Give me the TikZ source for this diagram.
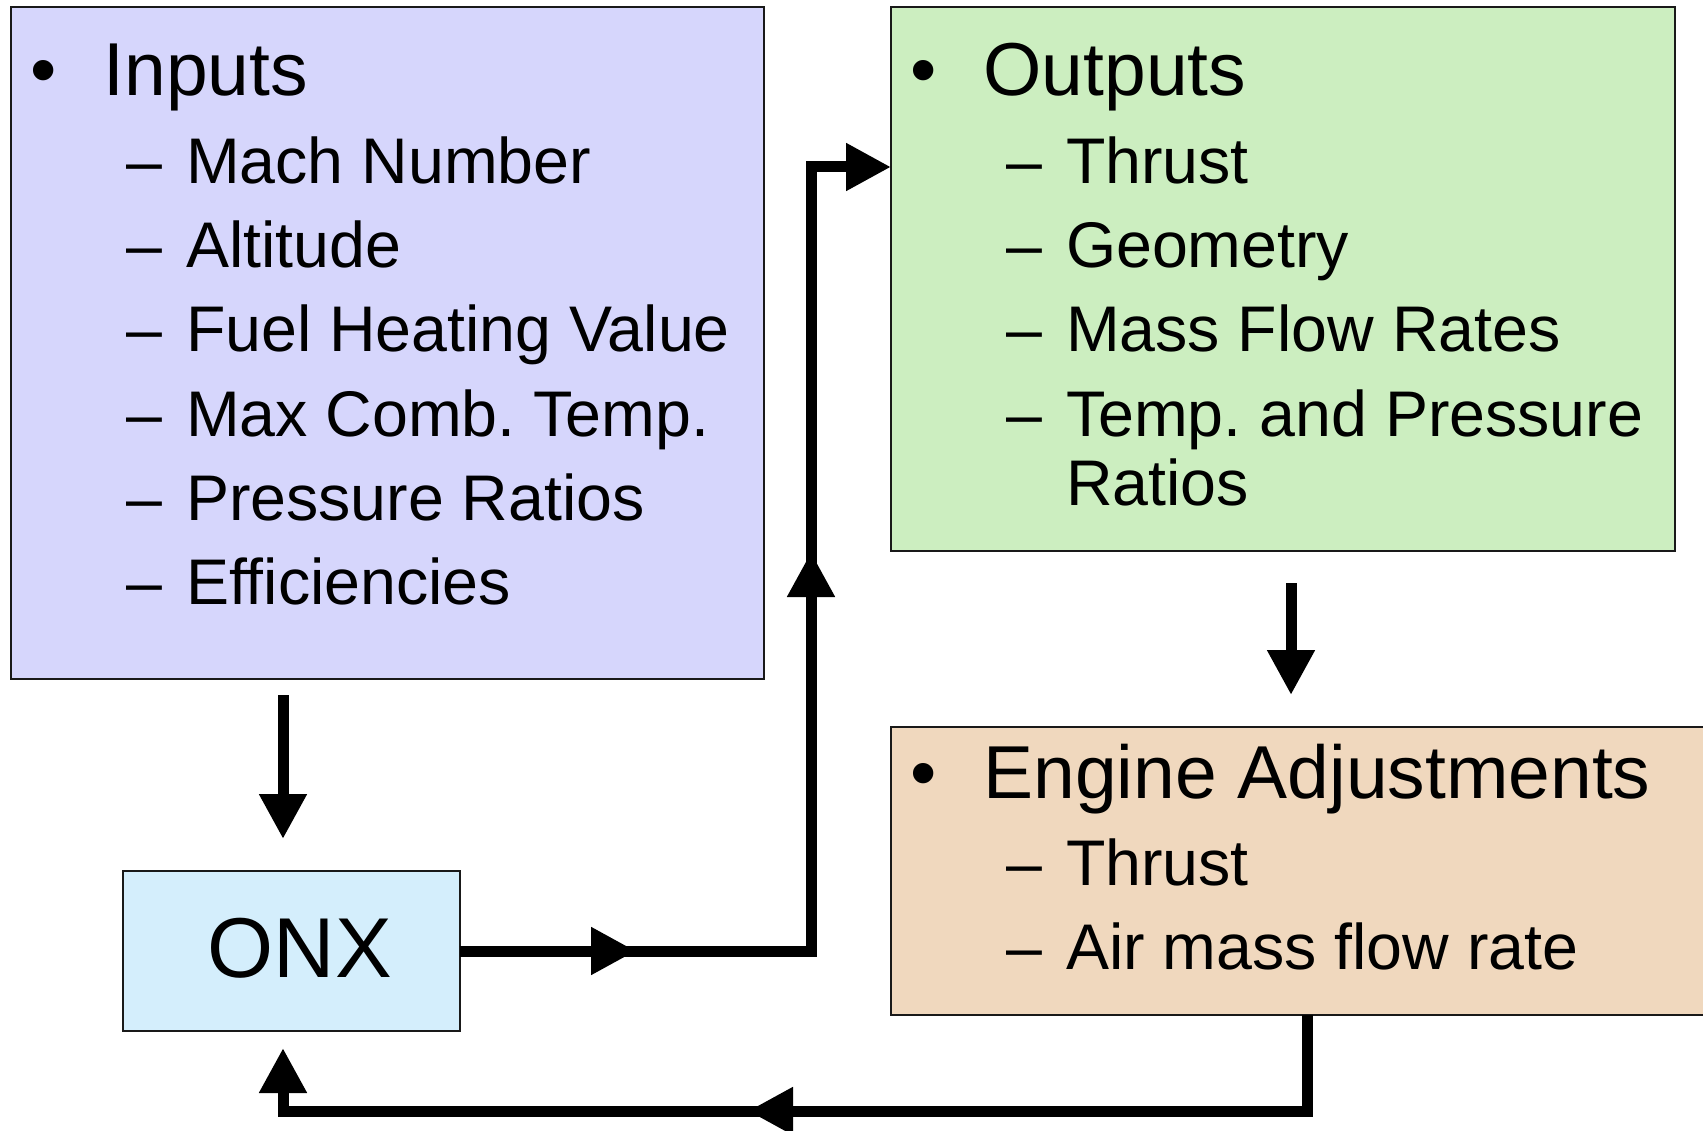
\documentclass[tikz,border=0pt]{standalone}
\usepackage{fontspec}
\setmainfont{Liberation Sans}
\usetikzlibrary{arrows.meta}
\frenchspacing

\definecolor{inputfill}{RGB}{214,214,252}
\definecolor{outputfill}{RGB}{204,238,192}
\definecolor{adjustfill}{RGB}{240,216,190}
\definecolor{onxfill}{RGB}{212,238,252}

\begin{document}
\begin{tikzpicture}[x=1pt,y=-1pt,
  box/.style={draw=black!90, line width=2pt, rectangle, inner sep=0pt, outer sep=0pt, anchor=north west},
  head/.style={anchor=base west, inner sep=0pt, outer sep=0pt, font=\fontsize{75}{80}\selectfont},
  item/.style={anchor=base west, inner sep=0pt, outer sep=0pt, font=\fontsize{64.5}{70}\selectfont},
  flow/.style={line width=11pt, line join=miter, draw=black},
  tipped/.style={flow, -{Triangle[length=45pt,width=45pt]}},
]
% page frame
\fill[white] (0,0) rectangle (1703,1131);
\useasboundingbox (0,0) rectangle (1703,1131);
\clip (0,0) rectangle (1703,1131);

% boxes
\node[box, fill=inputfill, minimum width=752.5pt, minimum height=672pt] (inputs) at (11,7) {};
\node[box, fill=outputfill, minimum width=784pt, minimum height=544pt] (outputs) at (891,7) {};
\node[box, fill=adjustfill, minimum width=829pt, minimum height=288pt] (adjust) at (891,727) {};
\node[box, fill=onxfill, minimum width=336.5pt, minimum height=160pt] (onx) at (123,871) {};

% inputs list
\node[head] (in-b) at (30.3,96) {•};
\node[head] (in-h) at (103.5,96) {Inputs};
\node[item] (in-d1) at (126,184) {–};
\node[item] (in-1) at (186,184) {Mach Number};
\node[item] (in-d2) at (126,268) {–};
\node[item] (in-2) at (186,268) {Altitude};
\node[item] (in-d3) at (126,352) {–};
\node[item] (in-3) at (186,352) {Fuel Heating Value};
\node[item] (in-d4) at (126,436) {–};
\node[item] (in-4) at (186,436) {Max Comb. Temp.};
\node[item] (in-d5) at (126,520) {–};
\node[item] (in-5) at (186,520) {Pressure Ratios};
\node[item] (in-d6) at (126,604) {–};
\node[item] (in-6) at (186,604) {Efficiencies};

% outputs list
\node[head] (out-b) at (910.3,96) {•};
\node[head] (out-h) at (983.5,96) {Outputs};
\node[item] (out-d1) at (1006,184) {–};
\node[item] (out-1) at (1066,184) {Thrust};
\node[item] (out-d2) at (1006,268) {–};
\node[item] (out-2) at (1066,268) {Geometry};
\node[item] (out-d3) at (1006,352) {–};
\node[item] (out-3) at (1066,352) {Mass Flow Rates};
\node[item] (out-d4) at (1006,436) {–};
\node[item] (out-4) at (1066,436) {Temp. and Pressure};
\node[item] (out-5) at (1066,505) {Ratios};

% engine adjustments list
\node[head] (adj-b) at (910.3,798) {•};
\node[head] (adj-h) at (983.5,798) {Engine Adjustments};
\node[item] (adj-d1) at (1006,885) {–};
\node[item] (adj-1) at (1066,885) {Thrust};
\node[item] (adj-d2) at (1006,969) {–};
\node[item] (adj-2) at (1066,969) {Air mass flow rate};

% ONX label
\node[anchor=base west, inner sep=0pt, font=\fontsize{85}{90}\selectfont] (onx-t) at (207.5,977.5) {ONX};

% connector end points and mid-path arrowheads
\coordinate (inA) at (283,695);
\coordinate (inB) at (283,839);
\coordinate (riseX) at (811,951);
\coordinate (riseTop) at (811,167);
\coordinate (midR) at (636,951);
\coordinate (midU) at (811,552);
\coordinate (outA) at (1291,583);
\coordinate (outB) at (1291,695);
\coordinate (retDown) at (1307,1111);
\coordinate (retLeft) at (283,1111);
\coordinate (retTip) at (283,1048);
\coordinate (midL) at (748,1111);

% inputs -> ONX
\draw[tipped] (inA) -- (inB);

% ONX -> outputs
\draw[tipped] (onx.east |- riseX) -- (riseX) -- (riseTop) -- (outputs.west |- riseTop);
\draw[tipped] ([xshift=-50pt]midR) -- (midR);
\draw[tipped] ([yshift=-50pt]midU) -- (midU);

% outputs -> engine adjustments
\draw[tipped] (outA) -- (outB);

% engine adjustments -> ONX
\draw[tipped] (adjust.south -| retDown) -- (retDown) -- (retLeft) -- (retTip);
\draw[tipped] ([xshift=50pt]midL) -- (midL);
\end{tikzpicture}
\end{document}
